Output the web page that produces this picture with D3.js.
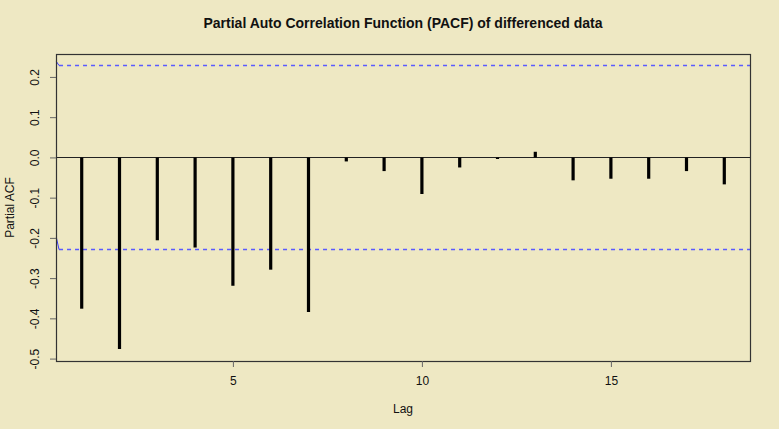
<!DOCTYPE html>
<html>
<head>
<meta charset="utf-8">
<script src="https://cdn.jsdelivr.net/npm/d3@7"></script>
<style>
  body { margin: 0; background: #eee8c3; }
  svg { display: block; font-family: "Liberation Sans", Arial, sans-serif; }
</style>
</head>
<body>
<div id="chart"></div>
<script>
// PACF values
var lags = [1, 2, 3, 4, 5, 6, 7, 8, 9, 10, 11, 12, 13, 14, 15, 16, 17, 18];
var pacf = [-0.376, -0.476, -0.206, -0.224, -0.319, -0.279, -0.384, -0.010, -0.034,
            -0.091, -0.025, -0.004, 0.014, -0.057, -0.053, -0.053, -0.034, -0.067];
var confLimit = 0.2286;
var xTicks = [5, 10, 15];
var yTicks = [-0.5, -0.4, -0.3, -0.2, -0.1, 0.0, 0.1, 0.2];

var width = 779, height = 429;
var margin = {top: 54, right: 29, bottom: 68, left: 56};

var svg = d3.select("#chart").append("svg")
  .attr("width", width)
  .attr("height", height);

svg.append("rect")
  .attr("width", width).attr("height", height)
  .attr("fill", "#eee8c3");

var x = d3.scaleLinear()
  .domain([0.32, 18.68])
  .range([margin.left, width - margin.right]);

var y = d3.scaleLinear()
  .domain([-0.506, 0.257])
  .range([height - margin.bottom, margin.top]);

// snap to pixel centre so thin lines stay crisp
function py(v) { return Math.round(y(v)) + 0.5; }

// zero line
svg.append("line")
  .attr("x1", x.range()[0]).attr("x2", x.range()[1])
  .attr("y1", py(0)).attr("y2", py(0))
  .attr("stroke", "#222").attr("stroke-width", 1);

// confidence limits
[confLimit, -confLimit].forEach(function (c) {
  svg.append("line")
    .attr("x1", x(0.4)).attr("x2", x.range()[1])
    .attr("y1", py(c)).attr("y2", py(c))
    .style("stroke", "#5a5aff")
    .style("stroke-width", 1.4)
    .style("stroke-dasharray", "4,4");
  // little solid blip at the left edge, as in the original
  svg.append("line")
    .attr("x1", x(0.33)).attr("x2", x(0.4))
    .attr("y1", py(c > 0 ? c + 0.01 : c + 0.032)).attr("y2", py(c))
    .style("stroke", "#3c3cff").style("stroke-width", 1);
});

// spikes
svg.append("g")
  .selectAll("line")
  .data(lags)
  .enter()
  .append("line")
    .attr("x1", function (d) { return x(d); })
    .attr("x2", function (d) { return x(d); })
    .attr("y1", py(0))
    .attr("y2", function (d, i) { return y(pacf[i]); })
    .attr("stroke", "#000")
    .attr("stroke-width", 3.2);

// box
svg.append("rect")
  .attr("x", Math.round(x.range()[0]) + 0.5).attr("y", Math.round(y.range()[1]) + 0.5)
  .attr("width", Math.round(x.range()[1] - x.range()[0]))
  .attr("height", Math.round(y.range()[0] - y.range()[1]))
  .attr("fill", "none")
  .attr("stroke", "#333")
  .attr("stroke-width", 1.2);

// x axis
var xAxis = svg.append("g")
  .attr("transform", "translate(0," + y.range()[0] + ")")
  .call(d3.axisBottom(x).tickValues(xTicks).tickSize(6).tickPadding(9).tickFormat(d3.format("d")));
xAxis.select(".domain").remove();
xAxis.selectAll("line").attr("stroke", "#666");
xAxis.selectAll("text").style("font-size", "12px").style("fill", "#111")
  .style("font-family", "Liberation Sans, Arial, sans-serif");

// y axis, labels rotated like R's default
var yAxis = svg.append("g")
  .attr("transform", "translate(" + x.range()[0] + ",0)")
  .call(d3.axisLeft(y).tickValues(yTicks).tickSize(6).tickFormat(d3.format(".1f")));
yAxis.select(".domain").remove();
yAxis.selectAll("line").attr("stroke", "#666");
yAxis.selectAll("text")
  .attr("x", null).attr("dy", null)
  .attr("text-anchor", "middle")
  .attr("transform", "translate(-17,0) rotate(-90)")
  .style("font-size", "12px").style("fill", "#111")
  .style("font-family", "Liberation Sans, Arial, sans-serif")
  .text(function (d) { return d3.format(".1f")(d).replace("−", "-"); });

// title
svg.append("text")
  .attr("x", (x.range()[0] + x.range()[1]) / 2)
  .attr("y", 28)
  .attr("text-anchor", "middle")
  .style("font-size", "14px")
  .style("font-weight", "bold")
  .style("fill", "#111")
  .text("Partial Auto Correlation Function (PACF) of differenced data");

// axis titles
svg.append("text")
  .attr("x", (x.range()[0] + x.range()[1]) / 2)
  .attr("y", 413)
  .attr("text-anchor", "middle")
  .style("font-size", "12px")
  .style("fill", "#111")
  .text("Lag");

svg.append("text")
  .attr("transform", "translate(14," + (y.range()[0] + y.range()[1]) / 2 + ") rotate(-90)")
  .attr("text-anchor", "middle")
  .style("font-size", "12px")
  .style("fill", "#111")
  .text("Partial ACF");
</script>
</body>
</html>
